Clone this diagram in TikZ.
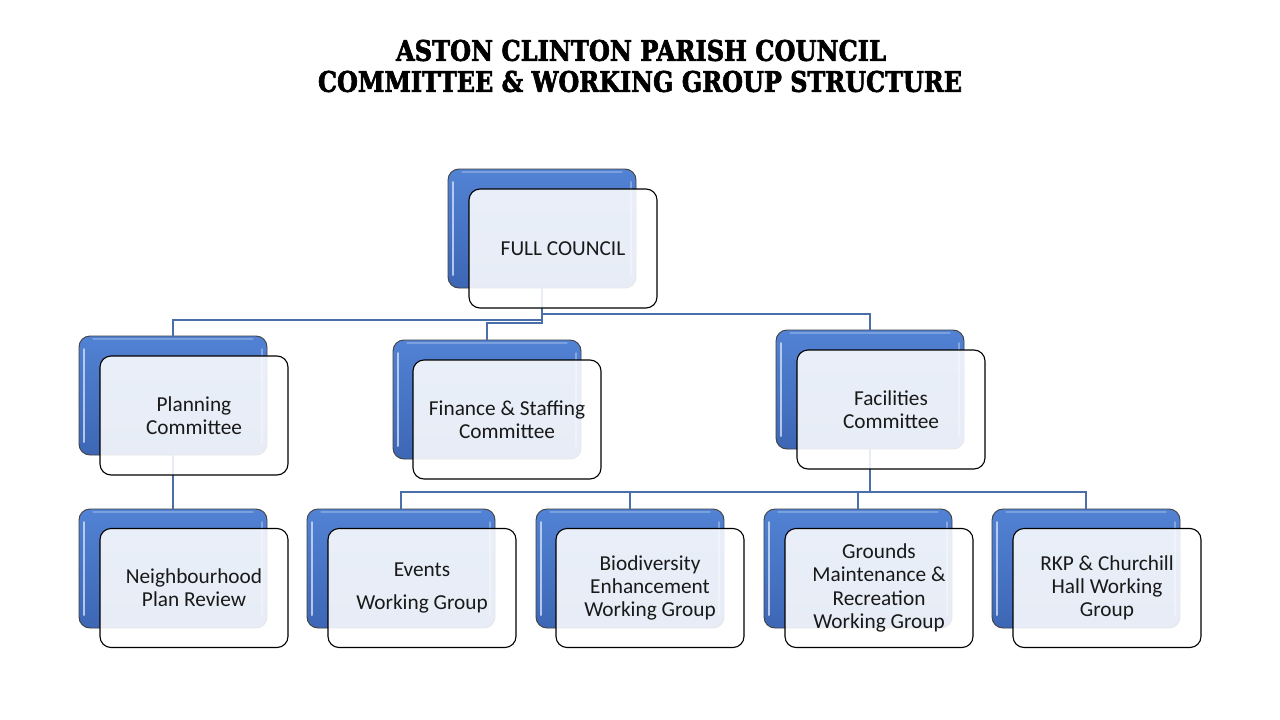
\documentclass[tikz,border=0pt]{standalone}
\usepackage{fontspec}
\usepackage{graphicx}
\setmainfont{Carlito}
\newfontfamily\titlefont[BoldFeatures={FakeBold=2.5}]{DejaVu Serif}
\definecolor{boxblue}{HTML}{4472C4}
\definecolor{boxtop}{HTML}{5282D4}
\definecolor{boxbot}{HTML}{3D67B5}
\definecolor{hlblue}{HTML}{C9D8F2}
\definecolor{linkblue}{HTML}{4A6FA8}
\tikzset{
  backbox/.style={draw=black!75, line width=0.9pt, rounded corners=11pt,
    minimum width=188pt, minimum height=119pt, inner sep=0pt,
    top color=boxtop, bottom color=boxbot,
    path picture={
      \draw[line width=2pt, draw=hlblue, opacity=0.85, line cap=round]
        ([shift={(5pt,-13pt)}]path picture bounding box.north west) --
        ([shift={(5pt,13pt)}]path picture bounding box.south west);
      \draw[line width=2pt, draw=hlblue, opacity=0.45, line cap=round]
        ([shift={(-5pt,-13pt)}]path picture bounding box.north east) --
        ([shift={(-5pt,13pt)}]path picture bounding box.south east);
      \draw[line width=1.2pt, draw=hlblue, opacity=0.35, line cap=round]
        ([shift={(14pt,-3pt)}]path picture bounding box.north west) --
        ([shift={(-14pt,-3pt)}]path picture bounding box.north east);}},
  frontbox/.style={draw=black, line width=1.1pt, rounded corners=11pt,
    minimum width=188pt, minimum height=119pt, inner sep=2pt, fill=white,
    fill opacity=0.88, text opacity=1, align=center, text=black!90,
    font=\fontsize{21.3}{23.3}\selectfont},
  link/.style={draw=linkblue, line width=1.4pt},
  titletext/.style={inner sep=0pt, text=black}
}
\begin{document}
\begin{tikzpicture}[x=1pt,y=-1pt]
\useasboundingbox[fill=white] (0,0) rectangle (1280,720);
% title
\node[titletext] (t1) at (641,50.5) {\resizebox{490pt}{21pt}{\titlefont\bfseries ASTON CLINTON PARISH COUNCIL}};
\node[titletext] (t2) at (640,81.5) {\resizebox{644pt}{21pt}{\titlefont\bfseries COMMITTEE \& WORKING GROUP STRUCTURE}};
% back boxes
\node[backbox] (fcB) at (542,228.5) {};
\node[backbox] (plB) at (173,395.5) {};
\node[backbox] (fiB) at (487,399.5) {};
\node[backbox] (faB) at (870,389.5) {};
\node[backbox] (nbB) at (173,568.5) {};
\node[backbox] (evB) at (401,568.5) {};
\node[backbox] (biB) at (630,568.5) {};
\node[backbox] (grB) at (858,568.5) {};
\node[backbox] (rkB) at (1086,568.5) {};
% connectors
\draw[link] (fcB.south) -- (fcB.south |- 0,314) -| (faB.north);
\draw[link] (fcB.south) -- (fcB.south |- 0,320) -| (plB.north);
\draw[link] (fcB.south) -- (fcB.south |- 0,323) -| (fiB.north);
\draw[link] (plB.south) -- (nbB.north);
\coordinate (fork) at (870,492);
\draw[link] (faB.south) -- (fork);
\draw[link] (fork) -| (evB.north);
\draw[link] (fork) -| (biB.north);
\draw[link] (fork) -| (grB.north);
\draw[link] (fork) -| (rkB.north);
% front boxes
\node[frontbox] (fc) at (563,248.5) {FULL COUNCIL};
\node[frontbox] (pl) at (194,415.5) {Planning\\Committee};
\node[frontbox] (fi) at (507,419.5) {Finance \& Staffing\\Committee};
\node[frontbox] (fa) at (891,409.5) {Facilities\\Committee};
\node[frontbox] (nb) at (194,588) {Neighbourhood\\Plan Review};
\node[frontbox] (ev) at (422,588) {Events\\[9pt]Working Group};
\node[frontbox] (bi) at (650,588) {Biodiversity\\Enhancement\\Working Group};
\node[frontbox] (gr) at (879,588) {Grounds\\Maintenance \&\\Recreation\\Working Group};
\node[frontbox] (rk) at (1107,588) {RKP \& Churchill\\Hall Working\\Group};
\end{tikzpicture}
\end{document}
